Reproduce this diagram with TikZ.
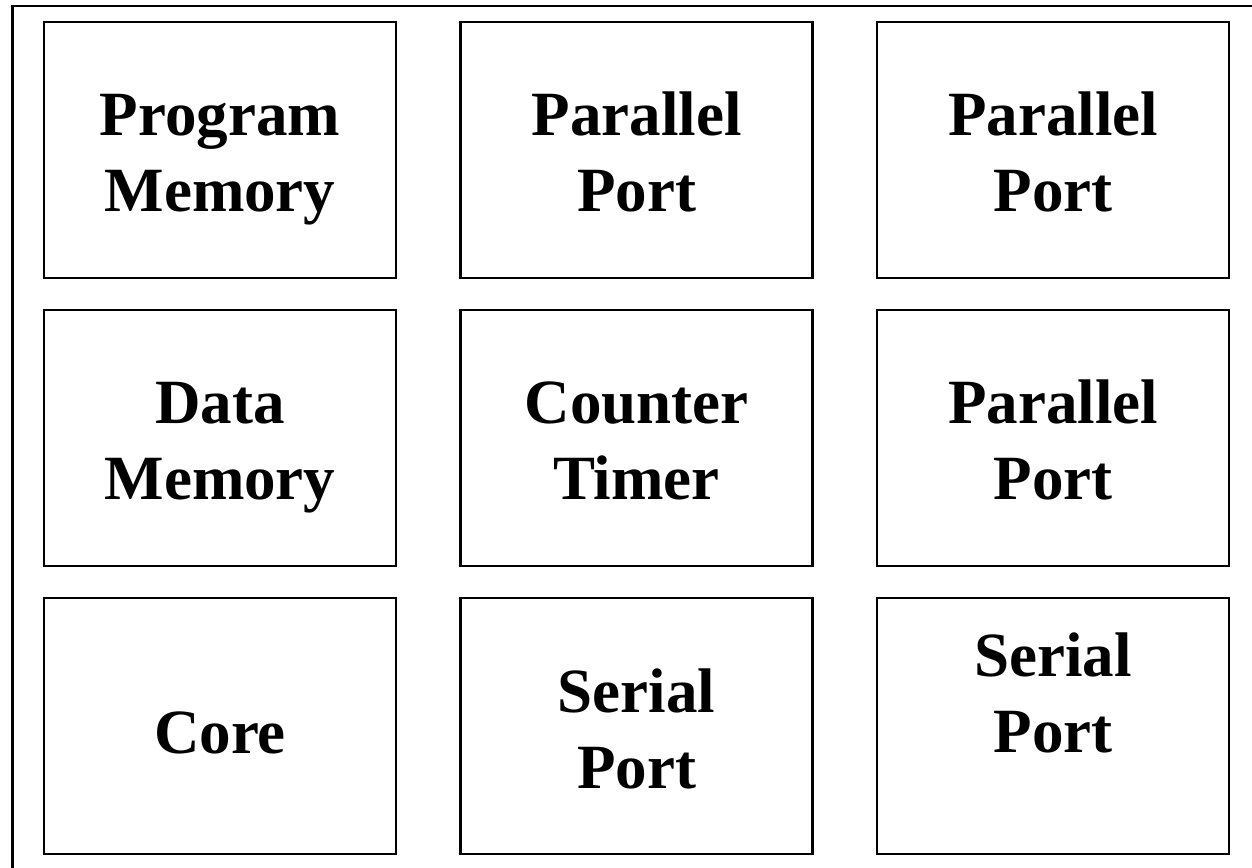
\documentclass[tikz,border=0pt]{standalone}
\usepackage{fontspec}
\setmainfont{Liberation Serif}
\begin{document}
\begin{tikzpicture}[x=1pt,y=-1pt,
  blk/.style={draw=black,line width=2.2pt,minimum width=352pt,minimum height=256pt,inner sep=0pt},
  lbl/.style={align=center,inner sep=0pt,anchor=base,font=\fontsize{63}{76}\selectfont\bfseries}]
\useasboundingbox (0,0) rectangle (1252,867);
\clip (0,0) rectangle (1252,867);
\draw[line width=2.2pt] (12.5,6) rectangle (1270,890);
\node[blk] (pm) at (220,150) {};
\node[blk] (pp1) at (636.5,150) {};
\node[blk] (pp2) at (1053,150) {};
\node[blk] (dm) at (220,438) {};
\node[blk] (ct) at (636.5,438) {};
\node[blk] (pp3) at (1053,438) {};
\node[blk] (core) at (220,726) {};
\node[blk] (sp1) at (636.5,726) {};
\node[blk] (sp2) at (1053,726) {};
\node[lbl] (pmt) at (220,211) {Program\\Memory};
\node[lbl] (pp1t) at (636.5,211) {Parallel\\Port};
\node[lbl] (pp2t) at (1053,211) {Parallel\\Port};
\node[lbl] (dmt) at (220,499) {Data\\Memory};
\node[lbl] (ctt) at (636.5,499) {Counter\\Timer};
\node[lbl] (pp3t) at (1053,499) {Parallel\\Port};
\node[lbl] (coret) at (220,753) {Core};
\node[lbl] (sp1t) at (636.5,788) {Serial\\Port};
\node[lbl] (sp2t) at (1053,752) {Serial\\Port};
\end{tikzpicture}
\end{document}
